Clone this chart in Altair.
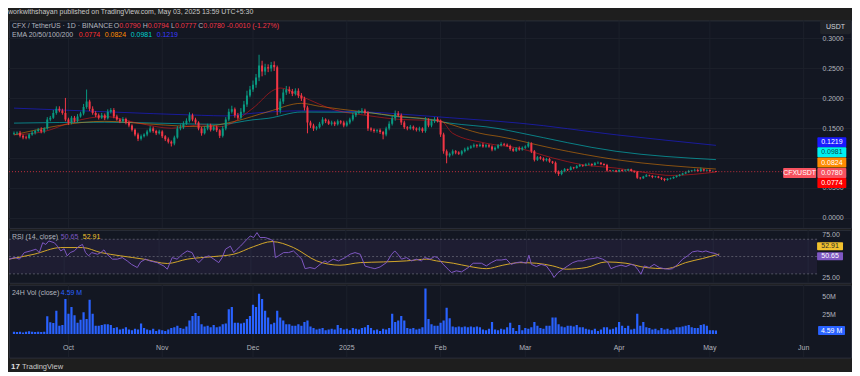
import altair as alt
import pandas as pd

# ---------------- values ----------------
# daily closes, day 0 = 2024-09-13 ... day 232 = 2025-05-03
closes = [
    0.142, 0.143, 0.138, 0.135, 0.134, 0.140, 0.143, 0.146, 0.148, 0.145,
    0.150, 0.165, 0.168, 0.176, 0.183, 0.180, 0.176, 0.165, 0.160, 0.168,
    0.163, 0.170, 0.175, 0.186, 0.195, 0.183, 0.176, 0.172, 0.168, 0.172,
    0.167, 0.178, 0.181, 0.170, 0.165, 0.162, 0.166, 0.160, 0.155, 0.148,
    0.140, 0.133, 0.137, 0.140, 0.145, 0.150, 0.146, 0.142, 0.145, 0.137,
    0.132, 0.128, 0.125, 0.135, 0.150, 0.152, 0.158, 0.163, 0.172, 0.165,
    0.160, 0.150, 0.142, 0.150, 0.155, 0.148, 0.152, 0.147, 0.138, 0.150,
    0.165, 0.178, 0.182, 0.172, 0.168, 0.178, 0.190, 0.205, 0.215, 0.223,
    0.235, 0.255, 0.245, 0.252, 0.250, 0.256, 0.252, 0.180, 0.195, 0.210,
    0.215, 0.212, 0.208, 0.213, 0.205, 0.200, 0.185, 0.160, 0.155, 0.150,
    0.152, 0.158, 0.165, 0.162, 0.158, 0.160, 0.157, 0.162, 0.160, 0.155,
    0.160, 0.165, 0.172, 0.176, 0.178, 0.180, 0.176, 0.150, 0.148, 0.146,
    0.147, 0.144, 0.140, 0.150, 0.158, 0.167, 0.175, 0.172, 0.160, 0.152,
    0.150, 0.153, 0.150, 0.148, 0.150, 0.146, 0.163, 0.155, 0.162, 0.166,
    0.163, 0.140, 0.112, 0.105, 0.108, 0.112, 0.110, 0.108, 0.112, 0.115,
    0.118, 0.120, 0.122, 0.121, 0.123, 0.120, 0.122, 0.120, 0.115, 0.118,
    0.122, 0.124, 0.123, 0.121, 0.116, 0.113, 0.117, 0.115, 0.118, 0.120,
    0.125, 0.112, 0.098, 0.102, 0.100, 0.097, 0.099, 0.095, 0.093, 0.078,
    0.074, 0.079, 0.082, 0.081, 0.085, 0.084, 0.087, 0.089, 0.088, 0.090,
    0.091, 0.089, 0.092, 0.093, 0.091, 0.089, 0.080, 0.079, 0.080, 0.078,
    0.081, 0.079, 0.080, 0.082, 0.079, 0.078, 0.068, 0.067, 0.070, 0.072,
    0.071, 0.069, 0.070, 0.068, 0.066, 0.064, 0.066, 0.067, 0.069, 0.071,
    0.073, 0.075, 0.077, 0.079, 0.080, 0.081, 0.079, 0.082, 0.080, 0.081,
    0.079, 0.079, 0.078,
]
first_open = 0.141
# wick lengths above / below the body, in 0.001 USDT
wick_up = [
    3, 2, 3, 2, 3, 2, 3, 2, 3, 4,   2, 4, 3, 5, 4, 4, 3, 25, 3, 3,
    3, 4, 3, 5, 20, 3, 4, 3, 3, 4,  3, 4, 3, 3, 3, 2, 3, 2, 3, 2,
    2, 3, 3, 2, 3, 4, 3, 2, 3, 2,   2, 3, 2, 3, 4, 5, 4, 4, 5, 3,
    3, 2, 3, 4, 3, 3, 3, 3, 2, 4,   4, 5, 6, 3, 4, 6, 6, 8, 6, 7,
    6, 18, 8, 6, 5, 5, 6, 3, 5, 6,  6, 5, 4, 4, 4, 4, 3, 3, 3, 3,
    2, 3, 4, 2, 3, 3, 2, 3, 2, 3,   3, 3, 4, 3, 3, 4, 3, 3, 2, 2,
    2, 3, 2, 3, 4, 4, 5, 4, 3, 3,   2, 3, 2, 2, 3, 2, 6, 4, 4, 3,
    3, 2, 3, 3, 2, 3, 2, 2, 2, 3,   2, 2, 3, 2, 2, 3, 2, 2, 2, 2,
    2, 3, 2, 2, 2, 2, 2, 3, 2, 2,   3, 2, 2, 2, 2, 2, 2, 2, 1, 2,
    2, 2, 2, 1, 2, 1, 2, 2, 1, 2,   2, 1, 2, 2, 1, 1, 2, 1, 1, 1,
    1, 1, 2, 1, 1, 1, 1, 1, 1, 2,   1, 1, 1, 1, 1, 1, 1, 1, 1, 1,
    1, 1, 1, 2, 1, 2, 2, 3, 1, 1,   1, 1, 0.4,
]
wick_dn = [
    2, 3, 3, 3, 2, 2, 2, 3, 2, 3,   3, 2, 3, 2, 3, 3, 3, 3, 4, 3,
    3, 3, 2, 3, 3, 4, 3, 3, 3, 2,   3, 2, 3, 3, 2, 3, 2, 3, 3, 3,
    3, 4, 3, 2, 3, 2, 3, 3, 2, 3,   3, 3, 5, 3, 2, 3, 3, 2, 3, 3,
    3, 3, 4, 2, 3, 3, 2, 3, 4, 3,   3, 3, 3, 4, 3, 3, 3, 4, 3, 4,
    5, 6, 8, 6, 6, 5, 6, 8, 5, 4,   4, 4, 4, 3, 4, 4, 5, 18, 4, 4,
    3, 2, 3, 3, 2, 3, 3, 2, 3, 3,   2, 3, 3, 3, 2, 3, 3, 4, 3, 3,
    3, 3, 8, 3, 3, 3, 4, 3, 4, 3,   3, 2, 3, 3, 3, 3, 3, 3, 3, 3,
    3, 4, 4, 13, 3, 3, 3, 2, 3, 2,  2, 2, 2, 3, 2, 2, 2, 2, 3, 2,
    2, 2, 2, 2, 3, 2, 2, 2, 2, 2,   2, 3, 3, 2, 2, 2, 2, 2, 2, 3,
    3, 2, 2, 2, 1, 2, 1, 1, 2, 1,   1, 2, 1, 1, 2, 1, 2, 1, 1, 1,
    1, 1, 1, 1, 1, 2, 2, 2, 1, 1,   1, 2, 1, 1, 2, 2, 1, 1, 1, 1,
    1, 1, 1, 1, 1, 1, 1, 1, 1, 1,   1, 1, 0.3,
]
# 24h volume, millions
volume_m = [
    3, 2.5, 3, 2, 3, 3.5, 3, 2.5, 3, 2.5,
    3, 23.6, 15.6, 14.7, 31, 11, 12, 47, 27, 36,
    25, 15, 19, 29, 20, 46, 27, 11, 11, 12,
    13, 13, 12, 8, 9, 6, 7, 9, 6, 5,
    7, 6, 14, 8, 6, 5, 7, 4, 6, 5,
    4, 6, 8, 9, 11, 8, 7, 10, 18, 24,
    28, 24, 13, 10, 11, 9, 12, 9, 10, 13,
    14, 33, 36, 15, 15, 14, 15, 20, 24, 39,
    36, 54, 47, 31, 22, 13, 15, 31, 22, 18,
    13, 13, 11, 11, 13, 11, 16, 18, 10, 8,
    6, 7, 8, 5, 6, 7, 6, 12, 8, 6,
    7, 5, 8, 7, 6, 8, 9, 12, 8, 5,
    6, 4, 7, 6, 8, 27, 16, 18, 24, 18,
    8, 7, 8, 6, 7, 9, 61, 20, 13, 11,
    11, 15, 18, 35, 21, 10, 9, 10, 9, 10,
    9, 10, 9, 10, 9, 6, 5, 7, 16, 6,
    5, 7, 6, 9, 15, 8, 4, 12, 5, 8,
    7, 9, 16, 11, 8, 7, 11, 11, 22, 22,
    13, 10, 9, 11, 11, 10, 12, 9, 9, 7,
    6, 5, 7, 4, 6, 9, 9, 6, 7, 9,
    16, 11, 8, 11, 6, 7, 27, 11, 16, 9,
    8, 6, 7, 5, 8, 6, 7, 5, 6, 9,
    9, 10, 11, 12, 9, 8, 8, 12, 13, 11,
    5, 5, 4.59,
]

ema20_day = [0, 10, 20, 30, 41, 52, 62, 68, 79, 86, 88, 95, 106, 117, 128, 141, 145, 156, 167, 178, 188, 199, 210, 217, 232]
ema20_val = [0.1395, 0.145, 0.162, 0.170, 0.159, 0.1505, 0.156, 0.153, 0.184, 0.2145, 0.2175, 0.2035, 0.181, 0.1715,
             0.165, 0.163, 0.142, 0.1255, 0.117, 0.101, 0.0895, 0.084, 0.0755, 0.0717, 0.0774]
ema50_day = [0, 30, 46, 62, 73, 84, 95, 101, 115, 128, 138, 156, 160, 178, 199, 232]
ema50_val = [0.1395, 0.162, 0.157, 0.153, 0.162, 0.178, 0.192, 0.187, 0.178, 0.170, 0.165, 0.140, 0.137, 0.117, 0.098, 0.0824]
ema100_day = [0, 30, 68, 79, 84, 95, 115, 128, 134, 144, 160, 167, 199, 232]
ema100_val = [0.159, 0.1605, 0.157, 0.1645, 0.167, 0.1775, 0.177, 0.169, 0.167, 0.159, 0.150, 0.143, 0.112, 0.0981]
ema200_day = [0, 30, 62, 70, 79, 95, 115, 128, 144, 160, 167, 199, 232]
ema200_val = [0.184, 0.178, 0.172, 0.171, 0.1755, 0.1795, 0.178, 0.174, 0.168, 0.162, 0.159, 0.1395, 0.1219]

rsi_day = [0, 2, 3.4, 5, 7, 8.8, 9.9, 11, 12, 13, 14.8, 15.8, 16.9, 18, 19, 20, 21.3, 22.9, 24, 25, 26, 27, 28.9, 30,
           31, 32, 33.8, 35.4, 37, 38.6, 40, 41.9, 43, 44.6, 46, 48.4, 50.6, 51.7, 53.3, 54.9, 56.6, 58.2, 59.8,
           60.9, 62, 63.6, 65.3, 66.9, 68.5, 69.6, 70.7, 72.3, 73.4, 74.5, 75.6, 77.2, 78.8, 79.9, 81, 82, 83.7,
           85.3, 86.4, 87, 88, 89.7, 91.3, 92.9, 94.6, 95.6, 96.7, 98.3, 99.9, 101.6, 103.2, 104, 105.9, 107.6,
           109.8, 111.4, 113, 114.7, 116.3, 118, 119.5, 121.2, 123.3, 125, 126, 127, 128.2, 129.8, 131.5, 133,
           134.7, 135.8, 137.5, 139, 140, 141.8, 143.4, 144.5, 146.1, 147.8, 150, 151.6, 154.3, 155.9, 157.5,
           159.2, 160.8, 162.4, 164, 165.7, 167.3, 169, 169.8, 170.6, 172.2, 173.8, 175.5, 177.1, 178, 179.3,
           180.9, 182.5, 184.1, 185.8, 187.4, 189, 190.7, 192.3, 193.9, 195.5, 196.6, 198.3, 199.9, 201.5,
           203.1, 204.2, 205.3, 206.4, 207.5, 209.1, 210.7, 212.4, 214, 215.6, 216.7, 218.4, 220, 221.6, 223.2,
           224.9, 226.5, 227.6, 229.2, 230.8, 232]
rsi_val = [47, 49, 47, 54.6, 56.5, 58.5, 54.6, 66, 64, 68, 66, 62, 56.5, 59, 50.8, 54.6, 56.5, 62, 64, 54.6, 50.8,
           54.6, 52.7, 54.6, 57.7, 52.7, 47, 47, 48.8, 45, 41, 37.3, 43.8, 47, 45, 43, 39, 35.4, 48.8, 47, 52.7,
           56.5, 54.6, 47, 43, 48.8, 50.8, 47, 43, 48.8, 58.5, 62, 54.6, 58.5, 62, 68, 73.8, 72, 77.7, 72, 72, 70,
           68, 48.8, 50.8, 54.6, 54.6, 56.5, 50.8, 47, 36, 37.3, 36, 41, 45, 43, 47, 45, 48.8, 52.7, 54.6, 52.7,
           39, 37.3, 36, 38, 43, 52.7, 56.5, 52.7, 47, 48.8, 45, 47, 45, 48.8, 47, 50, 48.8, 41, 35.4, 31.5,
           33.5, 32.3, 37.3, 42.3, 42.3, 39.2, 43, 46, 46, 47, 41, 43, 43.8, 42.3, 51.5, 41, 38.5, 41, 39.2,
           31.5, 25.8, 31.5, 35.4, 39.2, 43, 45, 45, 47, 47.7, 48.8, 47, 43.8, 36, 38.5, 40, 38.5, 41, 40, 35.4,
           29.6, 39.2, 37.3, 41, 37.3, 36, 35.4, 36, 41, 47, 50.8, 55.4, 56.5, 55.4, 56.5, 54.6, 53.5, 50.65]
rsima_day = [0, 8.2, 16.9, 24, 30, 36.5, 44, 51.7, 58.2, 66.9, 73.4, 79.9, 85.9, 92.9, 100.5, 108.1, 114.7, 122.3,
             129.8, 136.4, 139.6, 145.1, 150.5, 155.9, 161.3, 166.8, 172.2, 177.6, 182, 188.5, 195, 201.5, 208,
             214.5, 216.7, 221, 226.5, 232]
rsima_val = [47, 52.7, 60.4, 60.4, 54.6, 50.8, 47, 42, 47, 50, 52.7, 61.5, 67.3, 60.4, 45, 40, 43, 43.8, 45, 47,
             45, 42.3, 38.5, 36, 40, 43, 42.3, 39.2, 35.4, 37.3, 43.8, 42.3, 37.3, 36, 37.3, 43, 47.7, 52.91]

month_days = [18, 49, 79, 110, 141, 169, 200, 230, 261]
month_labels = ["Oct", "Nov", "Dec", "2025", "Feb", "Mar", "Apr", "May", "Jun"]
price_ticks = [0.0, 0.05, 0.10, 0.15, 0.20, 0.25, 0.30]
price_tick_labels_hidden = [0.10]      # covered by the value tags in the picture
rsi_ticks = [25, 75]
rsi_levels = [70, 50, 30]
vol_ticks = [25, 50]

header = "workwithshayan published on TradingView.com, May 03, 2025 13:59 UTC+5:30"

# ---------------- styling ----------------
FONT = "Liberation Sans"
BG = "#131722"
FRAME = "#1e1e1e"
GRID = "#1c202b"
TXT = "#b2b5be"
UP = "#089981"
DN = "#f23645"
C20, C50, C100, C200 = "#ff1a1a", "#ff8c00", "#00e8e8", "#2020ff"
PURPLE, YELLOW, VOLBLUE, PINK = "#7e57c2", "#f2c12e", "#2962ff", "#f7525f"

W = 844
H_P, H_R, H_V = 208, 53, 73
PX_P, PX_R, PX_V = 601.0, 0.8675, 0.748   # pixels per unit
P_TOP, R_TOP, V_TOP = 0.3303, 80.8, 65.9

xs = alt.Scale(domain=[0, 275], nice=False, zero=False)
ys_p = alt.Scale(domain=[P_TOP - H_P / PX_P, P_TOP], nice=False, zero=False)
ys_r = alt.Scale(domain=[R_TOP - H_R / PX_R, R_TOP], nice=False, zero=False)
ys_v = alt.Scale(domain=[V_TOP - H_V / PX_V, V_TOP], nice=False, zero=False)
one = pd.DataFrame({"k": [0]})


def X():
    return alt.X("day:Q", scale=xs, axis=None)


def txt(text, px, py, color=TXT, size=7, align="left", weight="normal"):
    return alt.Chart(one).mark_text(text=text, color=color, fontSize=size, font=FONT, align=align,
                                    baseline="middle", fontWeight=weight).encode(x=alt.value(px), y=alt.value(py))


months_df = pd.DataFrame({"day": month_days, "label": month_labels})


def month_grid(h):
    return alt.Chart(months_df).mark_rule(color=GRID, strokeWidth=1).encode(
        x=X(), y=alt.value(0), y2=alt.value(h))


def tag(val, label, fill, tcolor, off, xc, w, h, scale):
    df = pd.DataFrame({"val": [val], "label": [label]})
    y = alt.Y("val:Q", scale=scale, axis=None)
    box = alt.Chart(df).mark_tick(orient="horizontal", size=w, thickness=h, color=fill, opacity=1,
                                  yOffset=off, cornerRadius=1).encode(x=alt.value(xc), y=y)
    t = alt.Chart(df).mark_text(color=tcolor, fontSize=7, font=FONT, align="center", baseline="middle",
                                dy=off).encode(x=alt.value(xc), y=y, text="label:N")
    return [box, t]


def line(days, vals, color, scale, opacity=1.0, interp="monotone", width=1):
    df = pd.DataFrame({"day": days, "val": vals})
    return alt.Chart(df).mark_line(color=color, strokeWidth=width, opacity=opacity, interpolate=interp,
                                   clip=True).encode(x=X(), y=alt.Y("val:Q", scale=scale, axis=None))


# ---------------- candles ----------------
opens = [first_open] + closes[:-1]
cdf = pd.DataFrame({
    "day": list(range(len(closes))),
    "open": opens,
    "close": closes,
    "high": [max(o, c) + u / 1000 for o, c, u in zip(opens, closes, wick_up)],
    "low": [min(o, c) - d / 1000 for o, c, d in zip(opens, closes, wick_dn)],
})
cdf["dir"] = ["up" if c >= o else "down" for o, c in zip(opens, closes)]
dir_color = alt.Color("dir:N", scale=alt.Scale(domain=["up", "down"], range=[UP, DN]), legend=None)

wicks = alt.Chart(cdf).mark_rule(strokeWidth=1, clip=True).encode(
    x=X(), y=alt.Y("low:Q", scale=ys_p, axis=None), y2="high:Q", color=dir_color)
bodies = alt.Chart(cdf).mark_bar(size=2, clip=True).encode(
    x=X(), y=alt.Y("open:Q", scale=ys_p, axis=None), y2="close:Q", color=dir_color)

pt_df = pd.DataFrame({"val": price_ticks})
pl_df = pd.DataFrame({"val": [v for v in price_ticks if v not in price_tick_labels_hidden]})
price_grid = alt.Chart(pt_df).mark_rule(color=GRID).encode(
    y=alt.Y("val:Q", scale=ys_p, axis=None), x=alt.value(0), x2=alt.value(W))
price_lbl = alt.Chart(pl_df).mark_text(color=TXT, fontSize=7, font=FONT, align="center", baseline="middle").encode(
    x=alt.value(826), y=alt.Y("val:Q", scale=ys_p, axis=None), text=alt.Text("val:Q", format=".4f"))
last_df = pd.DataFrame({"val": [closes[-1]]})
last_line = alt.Chart(last_df).mark_rule(color=DN, strokeDash=[1, 2], opacity=0.8).encode(
    y=alt.Y("val:Q", scale=ys_p, axis=None), x=alt.value(0), x2=alt.value(776))

o_l, c_l = opens[-1], closes[-1]
h_l = max(o_l, c_l) + wick_up[-1] / 1000
l_l = min(o_l, c_l) - wick_dn[-1] / 1000
chg = c_l - o_l
pct = chg / o_l * 100
head1 = [("CFX / TetherUS · 1D · BINANCE", TXT, 3), ("O", TXT, 105), (f"{o_l:.4f}", DN, 110.5),
         ("H", TXT, 134), (f"{h_l:.4f}", DN, 139), ("L", TXT, 162.5), (f"{l_l:.4f}", DN, 166.4),
         ("C", TXT, 189.8), (f"{c_l:.4f}", DN, 194.8),
         (f"{chg:.4f} ({pct:.2f}%)", DN, 218.2)]
head2 = [("EMA 20/50/100/200", TXT, 3), (f"{ema20_val[-1]:.4f}", "#ff3030", 70),
         (f"{ema50_val[-1]:.4f}", C50, 96), (f"{ema100_val[-1]:.4f}", "#00d0d0", 122),
         (f"{ema200_val[-1]:.4f}", "#3a3aff", 148)]

price_layers = [month_grid(H_P), price_grid,
                line(ema200_day, ema200_val, C200, ys_p, 0.55),
                line(ema100_day, ema100_val, C100, ys_p, 0.5),
                line(ema50_day, ema50_val, C50, ys_p, 0.5),
                line(ema20_day, ema20_val, C20, ys_p, 0.5),
                wicks, bodies, last_line, price_lbl]
price_layers += tag(ema200_val[-1], f"{ema200_val[-1]:.4f}", "#1a1aff", "white", -3.2, 824.8, 29, 10, ys_p)
price_layers += tag(ema100_val[-1], f"{ema100_val[-1]:.4f}", "#00f0f0", "#0b4a4a", -7.5, 824.8, 29, 10, ys_p)
price_layers += tag(ema50_val[-1], f"{ema50_val[-1]:.4f}", "#ff8c00", "white", -6.5, 824.8, 29, 10, ys_p)
price_layers += tag(closes[-1], f"{closes[-1]:.4f}", PINK, "white", 1.4, 824.8, 29, 10, ys_p)
price_layers += tag(closes[-1], "CFXUSDT", PINK, "white", 1.4, 792.5, 33, 10, ys_p)
price_layers += tag(ema20_val[-1], f"{ema20_val[-1]:.4f}", "#ff0000", "white", 11, 824.8, 29, 10, ys_p)
price_layers.append(alt.Chart(one).mark_rect(color="#202329", cornerRadius=2).encode(
    x=alt.value(813), x2=alt.value(844), y=alt.value(0), y2=alt.value(14)))
price_layers.append(txt("USDT", 828.5, 7, color="#d1d4dc", align="center"))
for t, c, px in head1:
    price_layers.append(txt(t, px, 6, color=c))
for t, c, px in head2:
    price_layers.append(txt(t, px, 15, color=c))
price = alt.layer(*price_layers).properties(width=W, height=H_P)

# ---------------- RSI ----------------
lvl_df = pd.DataFrame({"val": rsi_levels})
band_df = pd.DataFrame({"hi": [rsi_levels[0]], "lo": [rsi_levels[-1]]})
rt_df = pd.DataFrame({"val": rsi_ticks})
rsi_layers = [
    month_grid(H_R),
    alt.Chart(band_df).mark_rect(color=PURPLE, opacity=0.1).encode(
        x=alt.value(0), x2=alt.value(810), y=alt.Y("hi:Q", scale=ys_r, axis=None), y2="lo:Q"),
    alt.Chart(lvl_df).mark_rule(color="#787b86", strokeDash=[2, 2], opacity=0.6).encode(
        y=alt.Y("val:Q", scale=ys_r, axis=None), x=alt.value(0), x2=alt.value(810)),
    line(rsima_day, rsima_val, "#d4a82a", ys_r, 1.0, "monotone"),
    line(rsi_day, rsi_val, PURPLE, ys_r, 1.0, "linear"),
    alt.Chart(rt_df).mark_text(color=TXT, fontSize=7, font=FONT, align="center", baseline="middle").encode(
        x=alt.value(824), y=alt.Y("val:Q", scale=ys_r, axis=None), text=alt.Text("val:Q", format=".2f")),
    txt("RSI (14, close)", 3, 7),
    txt(f"{rsi_val[-1]:.2f}", 52, 7, color=PURPLE),
    txt(f"{rsima_val[-1]:.2f}", 74, 7, color=YELLOW),
]
rsi_layers += tag(rsima_val[-1], f"{rsima_val[-1]:.2f}", YELLOW, "#2a2a2a", -7.9, 823, 26, 8, ys_r)
rsi_layers += tag(rsi_val[-1], f"{rsi_val[-1]:.2f}", PURPLE, "white", 0.2, 823, 26, 8, ys_r)
rsi = alt.layer(*rsi_layers).properties(width=W, height=H_R)

# ---------------- Volume ----------------
vdf = pd.DataFrame({"day": list(range(len(volume_m))), "vol": volume_m})
vt_df = pd.DataFrame({"val": vol_ticks, "label": [f"{v}M" for v in vol_ticks]})
vol_layers = [
    month_grid(H_V),
    alt.Chart(vdf).mark_bar(size=2.2, color=VOLBLUE, clip=True).encode(
        x=X(), y=alt.Y("vol:Q", scale=ys_v, axis=None), y2=alt.datum(0)),
    alt.Chart(vt_df).mark_text(color=TXT, fontSize=7, font=FONT, align="center", baseline="middle").encode(
        x=alt.value(822), y=alt.Y("val:Q", scale=ys_v, axis=None), text="label:N"),
    alt.Chart(months_df).mark_text(color=TXT, fontSize=7, font=FONT, align="center", baseline="middle").encode(
        x=X(), y=alt.value(63), text="label:N"),
    txt("24H Vol (close)", 3, 8),
    txt(f"{volume_m[-1]:.2f} M", 52, 8, color=VOLBLUE),
    txt("17", 2, 82, color="#e0e0e0", size=8, weight="bold"),
    txt("TradingView", 13, 82, color="#c8c8c8", size=7.5),
]
vol_layers += tag(volume_m[-1], f"{volume_m[-1]:.2f} M", VOLBLUE, "white", 0, 824.5, 27, 9, ys_v)
vol = alt.layer(*vol_layers).properties(width=W, height=H_V)

chart = alt.vconcat(price, rsi, vol, spacing=0).properties(
    title=alt.TitleParams(header, anchor="start", fontSize=7, color="#c8c8c8", font=FONT,
                          fontWeight="normal", offset=4),
    background=FRAME,
    padding=0,
).configure_view(fill=BG, stroke="#2a2e39", strokeWidth=1)

chart.save("out.html", embed_options={"renderer": "svg", "actions": False})
